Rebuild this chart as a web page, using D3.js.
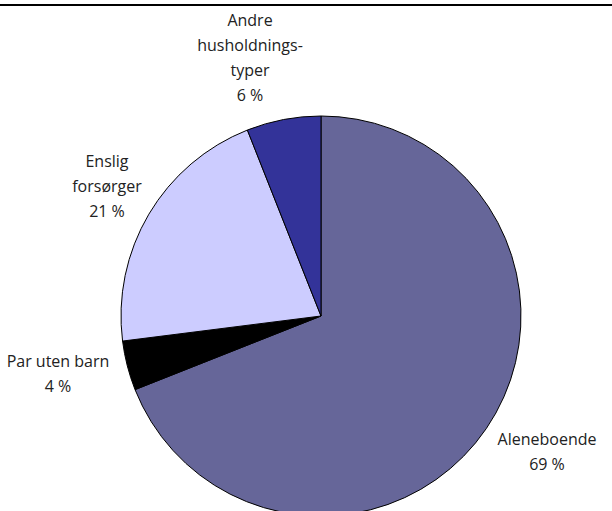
<!DOCTYPE html>
<html>
<head>
<meta charset="utf-8">
<script src="https://cdn.jsdelivr.net/npm/d3@7"></script>
<style>
  body { margin: 0; background: #fff; }
  svg { display: block; }
</style>
</head>
<body>
<div id="chart"></div>
<script>
let categories = ["Aleneboende", "Par uten barn", "Enslig forsørger", "Andre husholdningstyper"];
let values = [69, 4, 21, 6];
let labelLines = [
    ["Aleneboende", "69 %"],
    ["Par uten barn", "4 %"],
    ["Enslig", "forsørger", "21 %"],
    ["Andre", "husholdnings-", "typer", "6 %"]
];
let colors = ["#666699", "#000000", "#ccccff", "#333399"];

let width = 612, height = 511;
let cx = 321, cy = 316, radius = 200;

let svg = d3.select("#chart").append("svg")
    .attr("width", width)
    .attr("height", height);

// top rule
svg.append("line")
    .attr("x1", 0).attr("x2", width)
    .attr("y1", 5).attr("y2", 5)
    .attr("stroke", "#000")
    .attr("stroke-width", 2);

let data = categories.map((c, i) => ({ name: c, value: values[i], lines: labelLines[i] }));

let pie = d3.pie()
    .sort(null)
    .value(d => d.value);

let arc = d3.arc().innerRadius(0).outerRadius(radius);

let color = d3.scaleOrdinal().domain(categories).range(colors);

let g = svg.append("g").attr("transform", "translate(" + cx + "," + cy + ")");

let arcs = pie(data);

g.selectAll("path")
    .data(arcs)
    .enter().append("path")
    .attr("d", arc)
    .attr("fill", d => color(d.data.name))
    .attr("stroke", "#000")
    .attr("stroke-width", 1);

// labels outside the pie, placed by hand like the original
let lineH = 25;
let offsets = {
    "Aleneboende": [226, 129],
    "Par uten barn": [-263, 51],
    "Enslig forsørger": [-214, -149],
    "Andre husholdningstyper": [-71, -290]
};

let labels = g.selectAll("text.lbl")
    .data(arcs)
    .enter().append("text")
    .attr("class", "lbl")
    .attr("text-anchor", "middle")
    .attr("font-family", "'Open Sans', 'Noto Sans', sans-serif")
    .attr("font-size", "16px")
    .attr("fill", "#222")
    .attr("transform", d => {
        let o = offsets[d.data.name];
        return "translate(" + o[0] + "," + o[1] + ")";
    });

labels.selectAll("tspan")
    .data(d => d.data.lines)
    .enter().append("tspan")
    .attr("x", 0)
    .attr("dy", (d, i) => i === 0 ? 0 : lineH)
    .text(d => d);
</script>
</body>
</html>
